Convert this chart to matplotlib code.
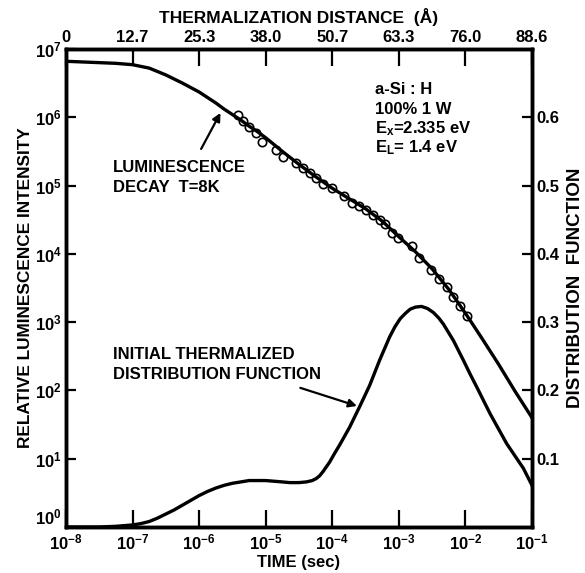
import numpy as np
import matplotlib.pyplot as plt

plt.rcParams['font.family'] = 'Liberation Sans'
plt.rcParams['font.weight'] = 'bold'
plt.rcParams['mathtext.fontset'] = 'custom'
plt.rcParams['mathtext.rm'] = 'Liberation Sans:bold'
plt.rcParams['mathtext.bf'] = 'Liberation Sans:bold'
plt.rcParams['mathtext.it'] = 'Liberation Sans:bold'
plt.rcParams['mathtext.default'] = 'bf'

# luminescence decay, log10 of time (s) and log10 of intensity
decay_log_t = [-8.0, -7.75, -7.5, -7.25, -7.0, -6.75, -6.5, -6.25, -6.0, -5.875, -5.75, -5.625,
               -5.5, -5.375, -5.25, -5.125, -5.0, -4.75, -4.5, -4.25, -4.0, -3.75, -3.5, -3.25,
               -3.0, -2.75, -2.5, -2.25, -2.0, -1.75, -1.5, -1.25, -1.0]
decay_log_I = [6.82, 6.81, 6.80, 6.79, 6.77, 6.72, 6.62, 6.50, 6.37, 6.29, 6.21, 6.12,
               6.04, 5.96, 5.87, 5.79, 5.70, 5.50, 5.31, 5.13, 4.96, 4.81, 4.66, 4.48,
               4.25, 4.03, 3.78, 3.48, 3.13, 2.76, 2.38, 1.98, 1.60]

# measured points (open circles)
circ_log_t = [-5.41, -5.34, -5.25, -5.14, -5.06, -4.84, -4.74, -4.54, -4.44, -4.34, -4.24, -4.14,
              -4.01, -3.83, -3.71, -3.60, -3.50, -3.39, -3.29, -3.21, -3.10, -3.01, -2.81, -2.70,
              -2.51, -2.40, -2.28, -2.19, -2.08, -1.98]
circ_log_I = [6.03, 5.94, 5.86, 5.77, 5.64, 5.52, 5.42, 5.33, 5.25, 5.18, 5.11, 5.03,
              4.96, 4.85, 4.74, 4.70, 4.64, 4.57, 4.50, 4.44, 4.31, 4.23, 4.11, 3.94,
              3.77, 3.63, 3.51, 3.37, 3.23, 3.09]

# initial thermalized distribution function (right axis)
dist_log_t = [-8.0, -7.5, -7.25, -7.0, -6.875, -6.75, -6.625, -6.5, -6.375, -6.25, -6.125, -6.0,
              -5.875, -5.75, -5.625, -5.5, -5.375, -5.25, -5.125, -5.0, -4.875, -4.75, -4.64,
              -4.5, -4.39, -4.3, -4.24, -4.19, -4.14, -4.09, -4.04, -3.97, -3.89, -3.74, -3.59,
              -3.44, -3.29, -3.14, -3.06, -2.98, -2.9, -2.83, -2.75, -2.66, -2.57, -2.48, -2.4,
              -2.33, -2.18, -2.03, -1.93, -1.83, -1.63, -1.38, -1.13, -1.0]
dist_val = [0.000, 0.000, 0.001, 0.003, 0.005, 0.008, 0.013, 0.019, 0.025, 0.032, 0.039, 0.046,
            0.052, 0.057, 0.061, 0.064, 0.066, 0.068, 0.068, 0.068, 0.067, 0.066, 0.065,
            0.065, 0.066, 0.068, 0.071, 0.075, 0.081, 0.088, 0.095, 0.107, 0.120, 0.146, 0.176,
            0.207, 0.244, 0.278, 0.293, 0.305, 0.313, 0.319, 0.322, 0.323, 0.320, 0.314, 0.306,
            0.297, 0.273, 0.244, 0.224, 0.205, 0.166, 0.122, 0.086, 0.061]

time_ticks = [1e-8, 1e-7, 1e-6, 1e-5, 1e-4, 1e-3, 1e-2, 1e-1]
time_labels = ['$10^{-8}$', '$10^{-7}$', '$10^{-6}$', '$10^{-5}$', '$10^{-4}$',
               '$10^{-3}$', '$10^{-2}$', '$10^{-1}$']
dist_labels = ['0', '12.7', '25.3', '38.0', '50.7', '63.3', '76.0', '88.6']
int_ticks = [1e0, 1e1, 1e2, 1e3, 1e4, 1e5, 1e6, 1e7]
int_labels = ['$10^0$', '$10^1$', '$10^2$', '$10^3$', '$10^4$', '$10^5$', '$10^6$', '$10^7$']
right_ticks = [0.1, 0.2, 0.3, 0.4, 0.5, 0.6]

fig = plt.figure(figsize=(5.85, 5.73), dpi=100)
ax = fig.add_axes([0.1128, 0.0803, 0.7966, 0.8342])

ax.plot(10.0 ** np.array(decay_log_t), 10.0 ** np.array(decay_log_I), color='black', lw=2.4)
ax.plot(10.0 ** np.array(circ_log_t), 10.0 ** np.array(circ_log_I), 'o', ms=6,
        mfc='none', mec='black', mew=1.2)
ax.set_xscale('log')
ax.set_yscale('log')
ax.set_xlim(1e-8, 1e-1)
ax.set_ylim(1e0, 1e7)
ax.set_xticks(time_ticks)
ax.set_xticklabels(time_labels, fontsize=12)
ax.set_yticks(int_ticks)
ax.set_yticklabels(int_labels, fontsize=12)
ax.get_yticklabels()[0].set_va('bottom')
ax.minorticks_off()
ax.tick_params(axis='x', direction='in', length=12, width=1.6, pad=4)
ax.tick_params(axis='y', direction='in', length=7, width=1.6, pad=3)
ax.set_xlabel('TIME (sec)', fontsize=12, fontweight='bold', labelpad=2)
ax.set_ylabel('RELATIVE LUMINESCENCE INTENSITY', fontsize=12.4, fontweight='bold', labelpad=1)

ax2 = ax.twinx()
ax2.plot(10.0 ** np.array(dist_log_t), dist_val, color='black', lw=2.4)
ax2.set_ylim(0, 0.7)
ax2.set_yticks(right_ticks)
ax2.set_yticklabels([f'{v:.1f}' for v in right_ticks], fontsize=12)
ax2.tick_params(axis='y', direction='in', length=7, width=1.6, pad=3)
ax2.set_ylabel('DISTRIBUTION  FUNCTION', fontsize=13.5, fontweight='bold', labelpad=6)

ax3 = ax.twiny()
ax3.set_xscale('log')
ax3.set_xlim(1e-8, 1e-1)
ax3.set_xticks(time_ticks)
ax3.set_xticklabels(dist_labels, fontsize=12)
ax3.minorticks_off()
ax3.tick_params(axis='x', direction='in', length=12, width=1.6, pad=3)
ax3.set_xlabel('THERMALIZATION DISTANCE  (Å)', fontsize=12.5, fontweight='bold', labelpad=5)

for a in (ax, ax2, ax3):
    for s in a.spines.values():
        s.set_linewidth(2.4)

ax.text(4.4e-4, 10 ** 6.41, 'a-Si : H', fontsize=12, va='center')
ax.text(4.4e-4, 10 ** 6.12, '100% 1 W', fontsize=12, va='center')
ax.text(4.4e-4, 10 ** 5.84, '$E_x$=2.335 eV', fontsize=12, va='center')
ax.text(4.4e-4, 10 ** 5.55, '$E_L$= 1.4 eV', fontsize=12, va='center')

ax.text(5.1e-8, 10 ** 5.27, 'LUMINESCENCE', fontsize=12, va='center')
ax.text(5.1e-8, 10 ** 4.965, 'DECAY  T=8K', fontsize=12, va='center')
ax.annotate('', xy=(10 ** -5.66, 10 ** 6.10), xytext=(10 ** -5.99, 10 ** 5.50),
            arrowprops=dict(arrowstyle='-|>', color='black', lw=1.6, mutation_scale=12))

ax.text(5.1e-8, 10 ** 2.52, 'INITIAL THERMALIZED', fontsize=12, va='center')
ax.text(5.1e-8, 10 ** 2.227, 'DISTRIBUTION FUNCTION', fontsize=12, va='center')
ax.annotate('', xy=(10 ** -3.59, 10 ** 1.76), xytext=(10 ** -4.52, 10 ** 2.05),
            arrowprops=dict(arrowstyle='-|>', color='black', lw=1.6, mutation_scale=12))

fig.savefig('out.png', dpi=100)
